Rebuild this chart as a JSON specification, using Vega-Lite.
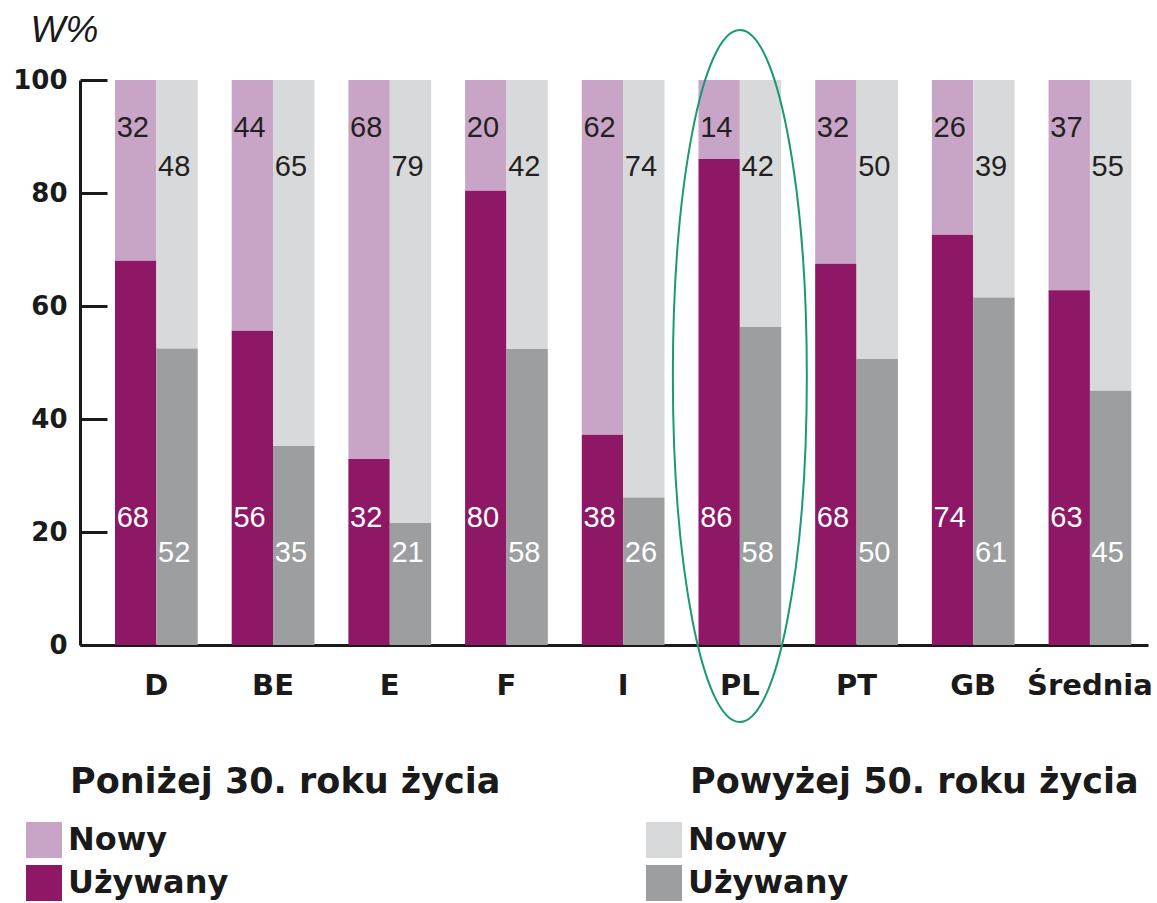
{
  "$schema": "https://vega.github.io/schema/vega-lite/v6.json",
  "autosize": "none",
  "width": 1068,
  "height": 565,
  "padding": {"left": 80, "top": 80, "right": 9, "bottom": 258},
  "background": "white",
  "config": {
    "view": {"stroke": null},
    "font": "Liberation Sans"
  },
  "data": {
    "values": [
      {"country": "D", "group": "u30", "used": 68, "usedLabel": 68, "newLabel": 32},
      {"country": "BE", "group": "u30", "used": 55.6, "usedLabel": 56, "newLabel": 44},
      {"country": "E", "group": "u30", "used": 32.9, "usedLabel": 32, "newLabel": 68},
      {"country": "F", "group": "u30", "used": 80.4, "usedLabel": 80, "newLabel": 20},
      {"country": "I", "group": "u30", "used": 37.2, "usedLabel": 38, "newLabel": 62},
      {"country": "PL", "group": "u30", "used": 86, "usedLabel": 86, "newLabel": 14},
      {"country": "PT", "group": "u30", "used": 67.5, "usedLabel": 68, "newLabel": 32},
      {"country": "GB", "group": "u30", "used": 72.6, "usedLabel": 74, "newLabel": 26},
      {"country": "Średnia", "group": "u30", "used": 62.8, "usedLabel": 63, "newLabel": 37},
      {"country": "D", "group": "o50", "used": 52.5, "usedLabel": 52, "newLabel": 48},
      {"country": "BE", "group": "o50", "used": 35.2, "usedLabel": 35, "newLabel": 65},
      {"country": "E", "group": "o50", "used": 21.6, "usedLabel": 21, "newLabel": 79},
      {"country": "F", "group": "o50", "used": 52.4, "usedLabel": 58, "newLabel": 42},
      {"country": "I", "group": "o50", "used": 26.1, "usedLabel": 26, "newLabel": 74},
      {"country": "PL", "group": "o50", "used": 56.3, "usedLabel": 58, "newLabel": 42},
      {"country": "PT", "group": "o50", "used": 50.6, "usedLabel": 50, "newLabel": 50},
      {"country": "GB", "group": "o50", "used": 61.5, "usedLabel": 61, "newLabel": 39},
      {"country": "Średnia", "group": "o50", "used": 45, "usedLabel": 45, "newLabel": 55}
    ]
  },
  "encoding": {
    "x": {
      "field": "country",
      "type": "nominal",
      "sort": ["D", "BE", "E", "F", "I", "PL", "PT", "GB", "Średnia"],
      "scale": {"paddingInner": 0.291, "paddingOuter": 0.2215, "align": 0.677},
      "axis": {
        "title": null,
        "labelAngle": 0,
        "ticks": false,
        "domainColor": "#1a1a1a",
        "domainWidth": 3,
        "labelFont": "DejaVu Sans",
        "labelFontWeight": "bold",
        "labelFontSize": 29,
        "labelColor": "#1a1a1a",
        "labelPadding": 26,
        "labelLimit": 0
      }
    }
  },
  "layer": [
    {
      "transform": [{"filter": "datum.group == 'u30'"}],
      "mark": {"type": "bar"},
      "encoding": {
        "xOffset": {"field": "group", "type": "nominal", "scale": {"domain": ["u30", "o50"], "paddingInner": 0, "paddingOuter": 0}},
        "y": {
          "field": "used",
          "type": "quantitative",
          "scale": {"domain": [0, 100], "nice": false},
          "axis": {
            "values": [0, 20, 40, 60, 80, 100],
            "grid": false,
            "title": "W%",
            "titleAngle": 0,
            "titleAlign": "left",
            "titleBaseline": "alphabetic",
            "titleX": -50,
            "titleY": -39,
            "titleFont": "Liberation Sans",
            "titleFontStyle": "italic",
            "titleFontWeight": "normal",
            "titleFontSize": 37,
            "titleColor": "#1a1a1a",
            "domainColor": "#1a1a1a",
            "domainWidth": 3,
            "tickColor": "#1a1a1a",
            "tickWidth": 3,
            "tickSize": -27,
            "labelPadding": 40,
            "labelFont": "DejaVu Sans",
            "labelFontWeight": "bold",
            "labelFontSize": 26,
            "labelColor": "#1a1a1a"
          }
        },
        "y2": {"datum": 100},
        "color": {
          "datum": "Nowy",
          "type": "nominal",
          "scale": {"domain": ["Nowy", "Używany"], "range": ["#c8a5c7", "#8e1766"]},
          "legend": {
            "title": "Poniżej 30. roku życia",
            "orient": "none",
            "legendX": -10,
            "legendY": 685,
            "padding": 0,
            "titleFont": "DejaVu Sans",
            "titleFontWeight": "bold",
            "titleFontSize": 35,
            "titleColor": "#1a1a1a",
            "titleLimit": 0,
            "titlePadding": 22,
            "labelFont": "DejaVu Sans",
            "labelFontWeight": "bold",
            "labelFontSize": 32,
            "labelColor": "#1a1a1a",
            "labelLimit": 0,
            "labelOffset": 6,
            "symbolType": "square",
            "symbolSize": 1296,
            "symbolOffset": -44,
            "symbolStrokeWidth": 0,
            "rowPadding": 7
          }
        }
      }
    },
    {
      "transform": [{"filter": "datum.group == 'u30'"}],
      "mark": {"type": "bar"},
      "encoding": {
        "xOffset": {"field": "group", "type": "nominal"},
        "y": {"field": "used", "type": "quantitative"},
        "color": {"datum": "Używany", "type": "nominal"}
      }
    },
    {
      "transform": [{"filter": "datum.group == 'o50'"}],
      "mark": {"type": "bar"},
      "encoding": {
        "xOffset": {"field": "group", "type": "nominal"},
        "y": {"field": "used", "type": "quantitative"},
        "y2": {"datum": 100},
        "fill": {
          "datum": "N50",
          "type": "nominal",
          "scale": {"domain": ["N50", "U50"], "range": ["#d8d9db", "#9c9ea0"]},
          "legend": {
            "title": "Powyżej 50. roku życia",
            "labelExpr": "datum.value == 'N50' ? 'Nowy' : 'Używany'",
            "orient": "none",
            "legendX": 610,
            "legendY": 685,
            "padding": 0,
            "titleFont": "DejaVu Sans",
            "titleFontWeight": "bold",
            "titleFontSize": 35,
            "titleColor": "#1a1a1a",
            "titleLimit": 0,
            "titlePadding": 22,
            "labelFont": "DejaVu Sans",
            "labelFontWeight": "bold",
            "labelFontSize": 32,
            "labelColor": "#1a1a1a",
            "labelLimit": 0,
            "labelOffset": 6,
            "symbolType": "square",
            "symbolSize": 1296,
            "symbolOffset": -44,
            "symbolStrokeWidth": 0,
            "rowPadding": 7
          }
        }
      }
    },
    {
      "transform": [{"filter": "datum.group == 'o50'"}],
      "mark": {"type": "bar"},
      "encoding": {
        "xOffset": {"field": "group", "type": "nominal"},
        "y": {"field": "used", "type": "quantitative"},
        "fill": {"datum": "U50", "type": "nominal"}
      }
    },
    {
      "transform": [{"filter": "datum.group == 'u30'"}],
      "mark": {"type": "text", "align": "left", "baseline": "middle", "dx": -19, "fontSize": 29, "font": "Liberation Sans", "color": "#231f20"},
      "encoding": {
        "xOffset": {"field": "group", "type": "nominal"},
        "y": {"datum": 91.5, "type": "quantitative"},
        "text": {"field": "newLabel", "type": "quantitative"}
      }
    },
    {
      "transform": [{"filter": "datum.group == 'o50'"}],
      "mark": {"type": "text", "align": "left", "baseline": "middle", "dx": -19, "fontSize": 29, "font": "Liberation Sans", "color": "#231f20"},
      "encoding": {
        "xOffset": {"field": "group", "type": "nominal"},
        "y": {"datum": 84.6, "type": "quantitative"},
        "text": {"field": "newLabel", "type": "quantitative"}
      }
    },
    {
      "transform": [{"filter": "datum.group == 'u30'"}],
      "mark": {"type": "text", "align": "left", "baseline": "middle", "dx": -19, "fontSize": 29, "font": "Liberation Sans", "color": "#ffffff"},
      "encoding": {
        "xOffset": {"field": "group", "type": "nominal"},
        "y": {"datum": 22.5, "type": "quantitative"},
        "text": {"field": "usedLabel", "type": "quantitative"}
      }
    },
    {
      "transform": [{"filter": "datum.group == 'o50'"}],
      "mark": {"type": "text", "align": "left", "baseline": "middle", "dx": -19, "fontSize": 29, "font": "Liberation Sans", "color": "#ffffff"},
      "encoding": {
        "xOffset": {"field": "group", "type": "nominal"},
        "y": {"datum": 16.3, "type": "quantitative"},
        "text": {"field": "usedLabel", "type": "quantitative"}
      }
    },
    {
      "transform": [{"filter": "datum.group == 'u30' && datum.country == 'PL'"}],
      "mark": {
        "type": "point",
        "filled": false,
        "shape": "M0,-1 C0.1069,-1 0.1936,-0.5523 0.1936,0 C0.1936,0.5523 0.1069,1 0,1 C-0.1069,1 -0.1936,0.5523 -0.1936,0 C-0.1936,-0.5523 -0.1069,-1 0,-1 Z",
        "size": 478864,
        "stroke": "#1b9a6f",
        "strokeWidth": 2,
        "opacity": 1
      },
      "encoding": {
        "y": {"datum": 47.6, "type": "quantitative"}
      }
    }
  ]
}
